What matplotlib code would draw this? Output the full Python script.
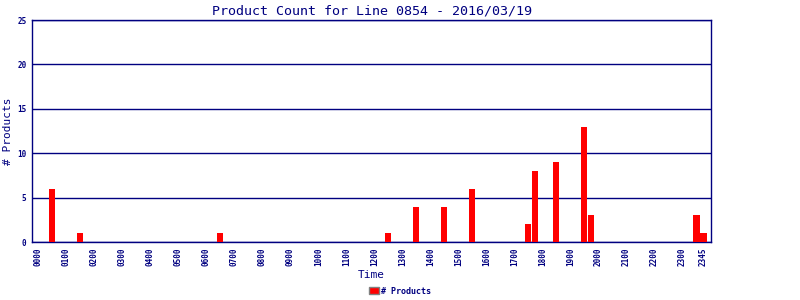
import numpy as np
import matplotlib
matplotlib.use("Agg")
import matplotlib.pyplot as plt

# 15-minute slots, 0000 .. 2345
slots = [2, 6, 26, 50, 54, 58, 62, 70, 71, 74, 78, 79, 94, 95]
counts = [6, 1, 1, 1, 4, 4, 6, 2, 8, 9, 13, 3, 3, 1]
tick_slots = list(range(0, 96, 4)) + [95]
tick_labels = ["%02d00" % h for h in range(24)] + ["2345"]

navy = "#000080"
plt.rcParams['font.family'] = ['DejaVu Sans Mono']

fig = plt.figure(figsize=(8, 3), dpi=100)
ax = fig.add_axes([0.04, 0.193, 0.849, 0.74])

values = np.zeros(96)
values[slots] = counts
ax.bar(np.arange(96), values, width=0.86, color="#ff0000", label="# Products", zorder=3)

ax.set_xlim(-0.9, 96.1)
ax.set_ylim(0, 25)
ax.set_yticks([0, 5, 10, 15, 20, 25])
ax.set_xticks(tick_slots)
ax.set_xticklabels(tick_labels, rotation=90, fontsize=5.5, color=navy, fontweight="bold")
for t in ax.get_yticklabels():
    t.set_fontweight("bold")
ax.tick_params(axis="y", labelsize=5.5, labelcolor=navy, length=0, pad=4)
ax.tick_params(axis="x", length=0, pad=4)
ax.yaxis.grid(True, color=navy, linewidth=1, zorder=1)

for s in ax.spines.values():
    s.set_color(navy)
    s.set_linewidth(1)

ax.set_title("Product Count for Line 0854 - 2016/03/19", color=navy, fontsize=9.6, pad=4)
ax.set_xlabel("Time", color=navy, fontsize=8, labelpad=3)
ax.set_ylabel("# Products", color=navy, fontsize=8, labelpad=3)

leg = fig.legend(loc="lower center", bbox_to_anchor=(0.5, -0.01), frameon=False,
                 fontsize=6, handlelength=1.2, handleheight=0.9, handletextpad=0.3)
for t in leg.get_texts():
    t.set_color(navy)
    t.set_fontweight("bold")
for p in leg.get_patches():
    p.set_edgecolor("#808080")

fig.savefig("out.png", dpi=100)
